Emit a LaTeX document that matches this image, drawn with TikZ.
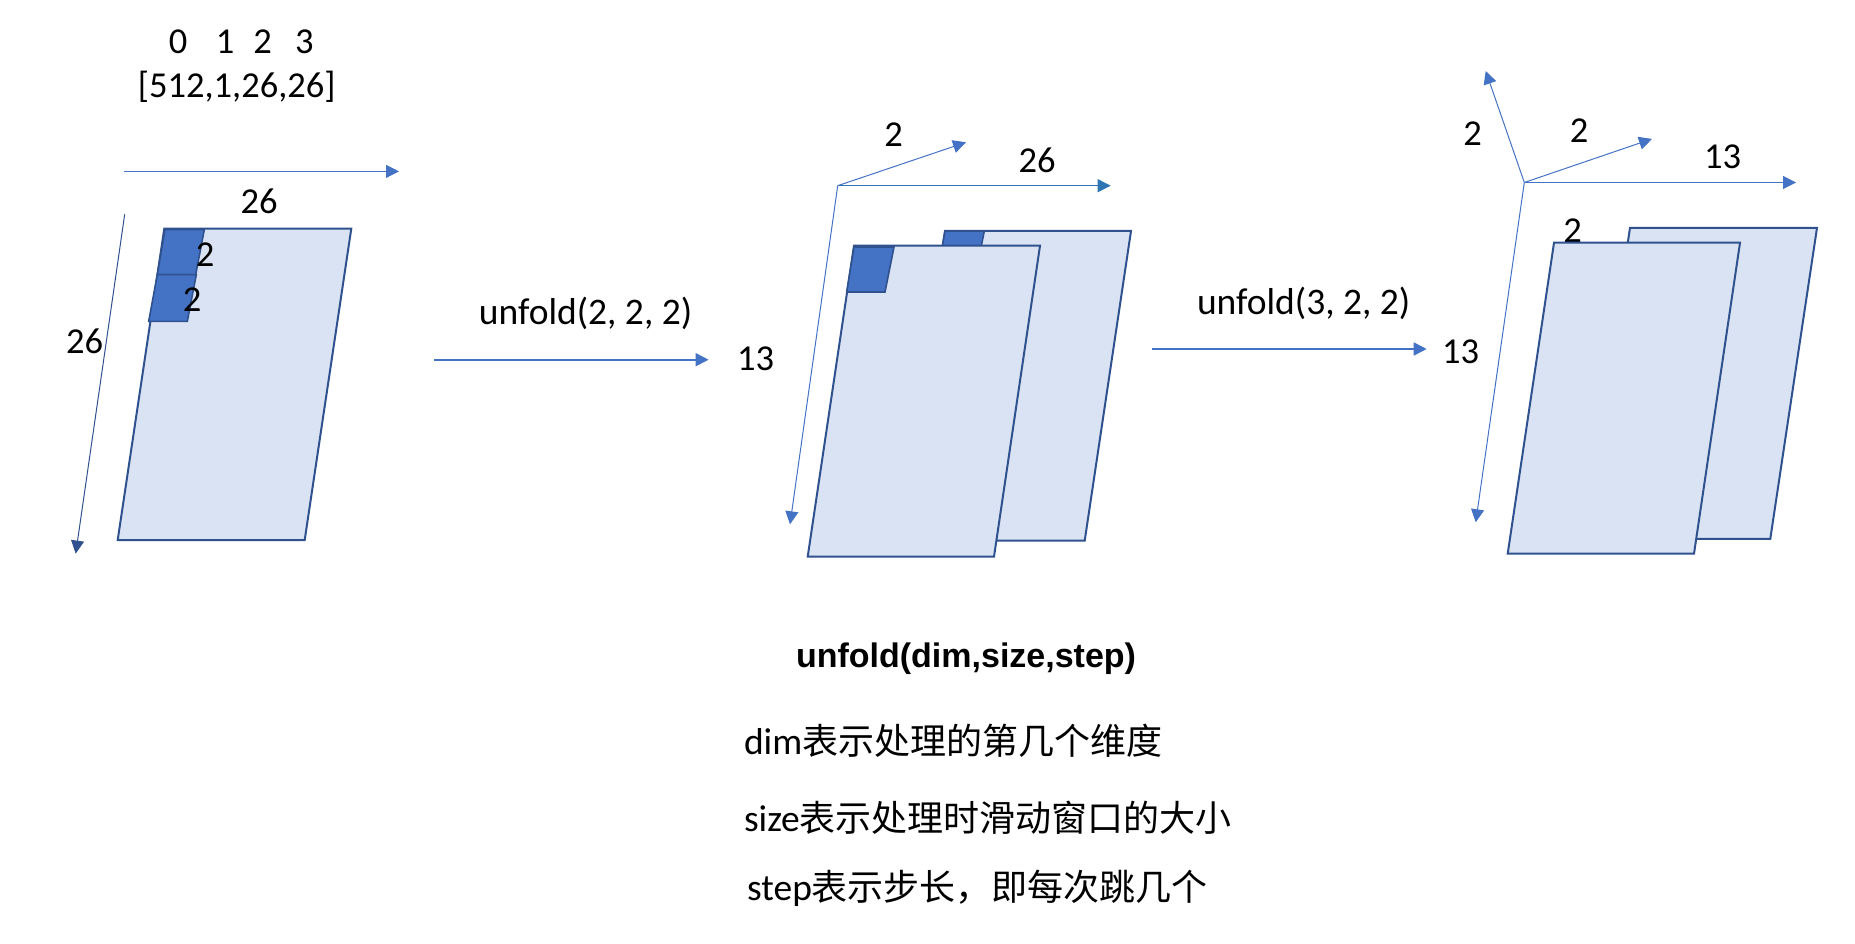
\documentclass[tikz,border=0pt]{standalone}
\usepackage{xcolor}
\usepackage{fontspec}
\setmainfont{Carlito}
\newfontfamily\cjk{Noto Sans CJK SC}[Scale=0.96]
\newfontfamily\titlefont{Liberation Sans}
\usetikzlibrary{arrows.meta}
\definecolor{planefill}{HTML}{DAE3F3}
\definecolor{planeline}{HTML}{2F528F}
\definecolor{windowfill}{HTML}{4472C4}
\definecolor{axisblue}{HTML}{4472C4}
\definecolor{axisdark}{HTML}{2F528F}
\definecolor{axissky}{HTML}{2E75B6}

\begin{document}
\begin{tikzpicture}[x=1pt, y=-1pt,
  plane/.style={draw=planeline, fill=planefill, line width=2pt, line join=miter},
  window/.style={draw=planeline, fill=windowfill, line width=1.6pt},
  axis/.style={-{Triangle[length=13pt, width=13pt]}, axisblue, line width=1pt},
  flow/.style={-{Triangle[length=13pt, width=13pt]}, axisblue, line width=1.6pt},
  lbl/.style={inner sep=0pt, font=\fontsize{36.5}{40}\selectfont},
  phrase/.style={inner sep=0pt, font=\fontsize{37.5}{42}\selectfont},
  note/.style={phrase, anchor=west}
]
  \useasboundingbox (0,0) rectangle (1855,944);

  \draw[plane] (164.3,228.6) -- (351.3,228.6) -- (304.7,540) -- (117.7,540) -- cycle;
  \draw[window] (165,229.6) -- (204.3,229.6) -- (195.7,274.6) -- (157.3,274.6) -- cycle;
  \draw[window] (157.3,274.6) -- (196.3,274.6) -- (187.3,321.4) -- (148.7,321.4) -- cycle;

  \node[lbl] (dimzero) at (178,42.1) {0};
  \node[lbl] (dimone) at (225,42.1) {1};
  \node[lbl] (dimtwo) at (262.7,42.1) {2};
  \node[lbl] (dimthree) at (304.3,42.1) {3};
  \node[lbl] (shape) at (236.7,86.8) {[512,1,26,26]};
  \node[lbl] (widthlbl) at (259,201) {26};
  \node[lbl] (heightlbl) at (84.7,341.4) {26};
  \node[lbl] (winwlbl) at (205,254.6) {2};
  \node[lbl] (winhlbl) at (192,299.3) {2};

  \coordinate (widthstart) at (124,171.4);
  \coordinate (widthend) at (399,171.4);
  \coordinate (heightstart) at (124.7,214.3);
  \coordinate (heightend) at (75.7,553.6);
  \draw[axis] (widthstart) -- (widthend);
  \draw[axis, axisdark] (heightstart) -- (heightend);

  \coordinate (flowa) at (434,359.7);
  \coordinate (flowb) at (708.6,359.7);
  \draw[flow] (flowa) -- (flowb);
  \node[phrase] (unfolda) at (585.6,313.5) {unfold(2, 2, 2)};

  \draw[plane] (945,231) -- (1131,231) -- (1084.7,540.7) -- (898.7,540.7) -- cycle;
  \draw[window] (945,231) -- (984.3,231) -- (975.3,276) -- (937,276) -- cycle;
  \draw[plane] (854,245.7) -- (1040,245.7) -- (994,556.7) -- (807.7,556.7) -- cycle;
  \draw[window] (854,247) -- (894,247) -- (885,292) -- (846.7,292) -- cycle;

  \coordinate (midorigin) at (837.7,185.7);
  \coordinate (middepth) at (966,142.3);
  \coordinate (midwidth) at (1110.7,185.7);
  \coordinate (midheight) at (790,524.3);
  \draw[axis] (midorigin) -- (middepth);
  \draw[axis, axissky] (midorigin) -- (midwidth);
  \draw[axis] (midorigin) -- (midheight);
  \node[lbl] (middepthlbl) at (893.7,134.3) {2};
  \node[lbl] (midwidthlbl) at (1037,160) {26};
  \node[lbl] (midheightlbl) at (755.7,358.3) {13};

  \coordinate (flowc) at (1152.3,349);
  \coordinate (flowd) at (1426.7,349);
  \draw[flow] (flowc) -- (flowd);
  \node[phrase] (unfoldb) at (1303.7,303) {unfold(3, 2, 2)};

  \node[lbl] (rightslotlbl) at (1572.7,230.9) {2};
  \draw[plane] (1630,227.8) -- (1817,227.8) -- (1770.3,538.8) -- (1583.3,538.8) -- cycle;
  \draw[plane] (1554,242.7) -- (1740,242.7) -- (1694,553.7) -- (1507.7,553.7) -- cycle;

  \coordinate (rightorigin) at (1524.3,182.5);
  \coordinate (rightup) at (1485.7,71);
  \coordinate (rightdepth) at (1652,138.9);
  \coordinate (rightwidth) at (1796,182.5);
  \coordinate (rightheight) at (1475.7,522.3);
  \draw[axis] (rightorigin) -- (rightup);
  \draw[axis] (rightorigin) -- (rightdepth);
  \draw[axis] (rightorigin) -- (rightwidth);
  \draw[axis] (rightorigin) -- (rightheight);
  \node[lbl] (rightuplbl) at (1472.7,133.5) {2};
  \node[lbl] (rightdepthlbl) at (1579,131.1) {2};
  \node[lbl] (rightwidthlbl) at (1722.7,157.2) {13};
  \node[lbl] (rightheightlbl) at (1460.7,351.9) {13};

  \node[inner sep=0pt, font=\titlefont\bfseries\fontsize{34}{40}\selectfont] (title) at (966,659) {unfold(dim,size,step)};
  \node[note] (dimnote) at (743.8,741) {dim{\cjk 表示处理的第几个维度}};
  \node[note] (sizenote) at (743.8,818) {size{\cjk 表示处理时滑动窗口的大小}};
  \node[note] (stepnote) at (747,888) {step{\cjk 表示步长，即每次跳几个}};
\end{tikzpicture}
\end{document}
